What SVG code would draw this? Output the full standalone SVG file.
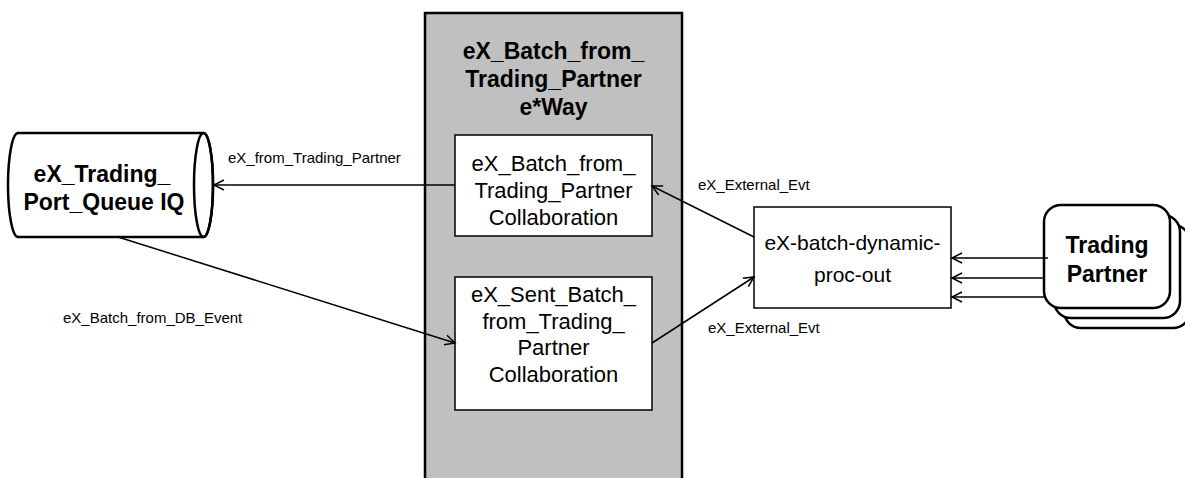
<svg xmlns="http://www.w3.org/2000/svg" width="1185" height="478" viewBox="0 0 1185 478">
<style>
text{font-family:"Liberation Sans",Arial,sans-serif;fill:#000}
.b{font-weight:bold;font-size:23px}
.n{font-size:22px}
.l{font-size:15px}
.box{fill:#fff;stroke:#000;stroke-width:1.5}
.thick{fill:#fff;stroke:#000;stroke-width:2.5}
.c line{stroke:#000;stroke-width:1.5}
</style>
<defs>
<marker id="a" markerWidth="14" markerHeight="14" refX="11" refY="6" orient="auto" markerUnits="userSpaceOnUse">
<path d="M1,1 L11,6 L1,11" fill="none" stroke="#000" stroke-width="1.5"/>
</marker>
</defs>
<g id="eway">
<rect x="425" y="13" width="257" height="480" fill="#c0c0c0" stroke="#000" stroke-width="2.5"/>
<text class="b" text-anchor="middle" x="553.5" y="59">eX_Batch_from_</text>
<text class="b" text-anchor="middle" x="553.5" y="87">Trading_Partner</text>
<text class="b" text-anchor="middle" x="553.5" y="115">e*Way</text>
</g>
<g id="collab1">
<rect class="box" x="455" y="135" width="197" height="101"/>
<text class="n" text-anchor="middle" x="553.5" y="171">eX_Batch_from_</text>
<text class="n" text-anchor="middle" x="553.5" y="198">Trading_Partner</text>
<text class="n" text-anchor="middle" x="553.5" y="225">Collaboration</text>
</g>
<g id="collab2">
<rect class="box" x="455" y="277" width="197" height="133"/>
<text class="n" text-anchor="middle" x="553.5" y="302">eX_Sent_Batch_</text>
<text class="n" text-anchor="middle" x="553.5" y="329">from_Trading_</text>
<text class="n" text-anchor="middle" x="553.5" y="355">Partner</text>
<text class="n" text-anchor="middle" x="553.5" y="382">Collaboration</text>
</g>
<g id="queue">
<path class="thick" d="M18,133 L203.5,133 A9.5,52 0 0 1 203.5,237 L18,237 A10,52 0 0 1 18,133 Z"/>
<ellipse cx="203.5" cy="185" rx="9.5" ry="52" fill="none" stroke="#000" stroke-width="2.5"/>
<text class="b" text-anchor="middle" x="102" y="182">eX_Trading_</text>
<text class="b" text-anchor="middle" x="104" y="210">Port_Queue IQ</text>
</g>
<g id="proc">
<rect class="box" x="754" y="207" width="197" height="101"/>
<text text-anchor="middle" x="852.5" y="250" font-size="21">eX-batch-dynamic-</text>
<text text-anchor="middle" x="852.5" y="282" font-size="21">proc-out</text>
</g>
<g id="partner">
<rect class="thick" x="1064" y="225" width="126" height="103" rx="17"/>
<rect class="thick" x="1054" y="215" width="126" height="103" rx="17"/>
<rect class="thick" x="1044" y="205" width="126" height="103" rx="17"/>
<text class="b" text-anchor="middle" x="1107" y="253">Trading</text>
<text class="b" text-anchor="middle" x="1107" y="282">Partner</text>
</g>
<g id="connectors" class="c">
<line x1="455" y1="185" x2="214" y2="185" marker-end="url(#a)"/>
<line x1="118" y1="237" x2="455" y2="343" marker-end="url(#a)"/>
<line x1="754" y1="237" x2="652" y2="186" marker-end="url(#a)"/>
<line x1="652" y1="343" x2="754" y2="277" marker-end="url(#a)"/>
<line x1="1048" y1="258" x2="952" y2="258" marker-end="url(#a)"/>
<line x1="1044" y1="278" x2="952" y2="278" marker-end="url(#a)"/>
<line x1="1044" y1="297" x2="952" y2="297" marker-end="url(#a)"/>
</g>
<g id="labels">
<text class="l" x="228" y="163">eX_from_Trading_Partner</text>
<text class="l" x="63" y="323">eX_Batch_from_DB_Event</text>
<text class="l" x="698" y="190">eX_External_Evt</text>
<text class="l" x="708" y="333">eX_External_Evt</text>
</g>
</svg>
